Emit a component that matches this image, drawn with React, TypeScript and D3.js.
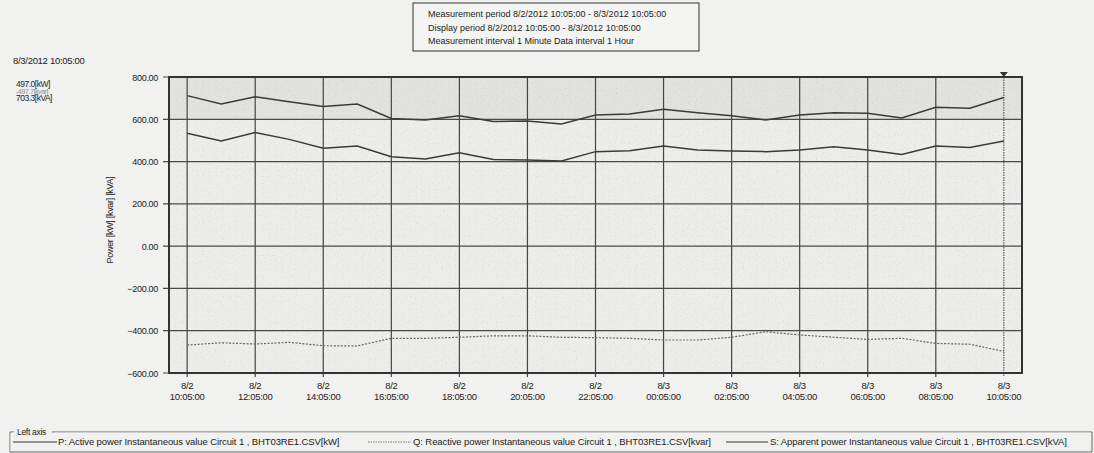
import React from 'react';
import * as d3 from 'd3';

// hourly samples, 8/2/2012 10:05 -> 8/3/2012 10:05
const times = [
  '2012-08-02 10:05', '2012-08-02 11:05', '2012-08-02 12:05', '2012-08-02 13:05', '2012-08-02 14:05',
  '2012-08-02 15:05', '2012-08-02 16:05', '2012-08-02 17:05', '2012-08-02 18:05', '2012-08-02 19:05',
  '2012-08-02 20:05', '2012-08-02 21:05', '2012-08-02 22:05', '2012-08-02 23:05', '2012-08-03 00:05',
  '2012-08-03 01:05', '2012-08-03 02:05', '2012-08-03 03:05', '2012-08-03 04:05', '2012-08-03 05:05',
  '2012-08-03 06:05', '2012-08-03 07:05', '2012-08-03 08:05', '2012-08-03 09:05', '2012-08-03 10:05',
];

// P: active power [kW]
const activeP = [534, 497, 537, 505, 463, 474, 423, 412, 442, 410, 407, 403, 447, 451, 474, 455, 450, 447, 455, 470, 455, 433, 474, 467, 497];
// Q: reactive power [kvar]
const reactiveQ = [-468, -457, -463, -455, -471, -472, -436, -436, -431, -424, -424, -431, -433, -436, -444, -444, -431, -405, -420, -431, -441, -436, -460, -464, -498];
// S: apparent power [kVA]
const apparentS = [712, 672, 707, 683, 660, 672, 604, 597, 617, 590, 592, 578, 620, 625, 647, 631, 617, 597, 620, 631, 628, 606, 657, 652, 703];

const xTicks = [
  '2012-08-02 10:05', '2012-08-02 12:05', '2012-08-02 14:05', '2012-08-02 16:05', '2012-08-02 18:05',
  '2012-08-02 20:05', '2012-08-02 22:05', '2012-08-03 00:05', '2012-08-03 02:05', '2012-08-03 04:05',
  '2012-08-03 06:05', '2012-08-03 08:05', '2012-08-03 10:05',
];
const yTicks = [800, 600, 400, 200, 0, -200, -400, -600];

const infoLines = [
  'Measurement period  8/2/2012 10:05:00 - 8/3/2012 10:05:00',
  'Display period  8/2/2012 10:05:00 - 8/3/2012 10:05:00',
  'Measurement interval  1 Minute  Data interval  1 Hour',
];
const cursorTime = '8/3/2012 10:05:00';
const cursorValues = ['497.0[kW]', '-497.7[kvar]', '703.3[kVA]'];
const legendNames = [
  'P: Active power Instantaneous value Circuit 1 , BHT03RE1.CSV[kW]',
  'Q: Reactive power Instantaneous value Circuit 1 , BHT03RE1.CSV[kvar]',
  'S: Apparent power Instantaneous value Circuit 1 , BHT03RE1.CSV[kVA]',
];

const parse = d3.timeParse('%Y-%m-%d %H:%M');
const W = 1094;
const H = 453;
const plot = { left: 169, right: 1022, top: 77, bottom: 373 };
const font = '"Liberation Sans", Arial, sans-serif';

// legend layout: sample line start/end, text start
const legendLayout = [
  { x1: 13, x2: 57, tx: 58, dash: undefined, color: '#333' },
  { x1: 368, x2: 411, tx: 413, dash: '1.5,1', color: '#777' },
  { x1: 726, x2: 768, tx: 770, dash: undefined, color: '#333' },
];

export default function App() {
  const dates = times.map((t) => parse(t) as Date);
  const x = d3
    .scaleTime()
    .domain([parse('2012-08-02 09:33') as Date, parse('2012-08-03 10:37') as Date])
    .range([plot.left, plot.right]);
  const y = d3.scaleLinear().domain([-600, 800]).range([plot.bottom, plot.top]);

  const line = d3
    .line<number>()
    .x((_, i) => x(dates[i]))
    .y((d) => y(d));

  const fmtDay = d3.timeFormat('%-m/%-d');
  const fmtTime = d3.timeFormat('%H:%M:00');
  const lastX = x(dates[dates.length - 1]);
  const pw = plot.right - plot.left;
  const ph = plot.bottom - plot.top;

  return (
    <svg
      width={W}
      height={H}
      style={{ position: 'absolute', left: 0, top: 0, background: '#f1f1f0' }}
      fontFamily={font}
    >
      <defs>
        <filter id="speckle" x="0" y="0" width="100%" height="100%">
          <feTurbulence type="fractalNoise" baseFrequency="0.85" numOctaves="1" seed="4" result="n" />
          <feColorMatrix
            in="n"
            type="matrix"
            values="0 0 0 0 0.3  0 0 0 0 0.3  0 0 0 0 0.3  -6 0 0 0 2.6"
          />
        </filter>
      </defs>

      {/* info box */}
      <rect x={413} y={3} width={286} height={48} fill="#f4f4f3" stroke="#333" strokeWidth={1} />
      {infoLines.map((t, i) => (
        <text key={t} x={428} y={17 + i * 13.5} fontSize={9} fill="#222">
          {t}
        </text>
      ))}

      {/* cursor readout */}
      <text x={13} y={64} fontSize={9.5} fill="#222" letterSpacing={-0.3}>{cursorTime}</text>
      <text x={16} y={87} fontSize={8.5} fill="#222" letterSpacing={-0.5}>{cursorValues[0]}</text>
      <text x={16} y={94} fontSize={7} fill="#888" letterSpacing={-0.4}>{cursorValues[1]}</text>
      <text x={16} y={101} fontSize={8.5} fill="#222" letterSpacing={-0.5}>{cursorValues[2]}</text>

      {/* plot background */}
      <rect x={plot.left} y={plot.top} width={pw} height={ph} fill="#ededec" />
      <rect x={plot.left} y={plot.top} width={pw} height={y(600) - plot.top} fill="#e2e2e1" />
      <rect x={plot.left} y={plot.top} width={pw} height={ph} filter="url(#speckle)" opacity={0.14} />

      {/* horizontal grid + y ticks */}
      {yTicks.map((v) => (
        <g key={v}>
          <line x1={plot.left - 6} x2={plot.right} y1={y(v)} y2={y(v)} stroke="#4a4a4a" strokeWidth={1.2} />
          <text x={158} y={y(v) + 3.5} fontSize={9} textAnchor="end" fill="#222" letterSpacing={-0.3}>
            {d3.format('.2f')(v)}
          </text>
        </g>
      ))}

      {/* vertical grid + x ticks */}
      {xTicks.map((t, i) => {
        const d = parse(t) as Date;
        const last = i === xTicks.length - 1;
        return (
          <g key={t}>
            <line
              x1={x(d)}
              x2={x(d)}
              y1={plot.top}
              y2={plot.bottom + 4}
              stroke="#444"
              strokeWidth={last ? 1 : 1.2}
              strokeDasharray={last ? '1.5,1' : undefined}
            />
            <text x={x(d)} y={389} fontSize={9.5} textAnchor="middle" fill="#222" letterSpacing={-0.3}>
              {fmtDay(d)}
            </text>
            <text x={x(d)} y={400} fontSize={9.5} textAnchor="middle" fill="#222" letterSpacing={-0.3}>
              {fmtTime(d)}
            </text>
          </g>
        );
      })}

      {/* series */}
      <path d={line(apparentS) ?? ''} fill="none" stroke="#3a3a3a" strokeWidth={1.5} />
      <path d={line(activeP) ?? ''} fill="none" stroke="#3a3a3a" strokeWidth={1.5} />
      <path d={line(reactiveQ) ?? ''} fill="none" stroke="#666" strokeWidth={1.2} strokeDasharray="2,1.5" />

      {/* plot frame */}
      <rect x={plot.left} y={plot.top} width={pw} height={ph} fill="none" stroke="#333" strokeWidth={2} />

      {/* cursor marker */}
      <path d={`M${lastX - 4},${plot.top - 5} L${lastX + 4},${plot.top - 5} L${lastX},${plot.top} Z`} fill="#333" />

      {/* y axis title */}
      <text
        transform="translate(113,220) rotate(-90)"
        fontSize={9}
        textAnchor="middle"
        fill="#222"
        letterSpacing={-0.3}
      >
        Power [kW] [kvar] [kVA]
      </text>

      {/* legend group box */}
      <path d="M14,432 L10,432 L10,452 L1092,452 L1092,432 L52,432" fill="none" stroke="#666" strokeWidth={1} />
      <path d="M15,433 L11,433 L11,451 M1091,433 L53,433" fill="none" stroke="#fff" strokeWidth={0.8} />
      <text x={17} y={435} fontSize={8.5} fill="#222" letterSpacing={-0.3}>Left axis</text>

      {legendNames.map((name, i) => {
        const l = legendLayout[i];
        return (
          <g key={name}>
            <line x1={l.x1} x2={l.x2} y1={442} y2={442} stroke={l.color} strokeWidth={1} strokeDasharray={l.dash} />
            <text x={l.tx} y={445} fontSize={9.5} fill="#222" letterSpacing={-0.1}>
              {name}
            </text>
          </g>
        );
      })}
    </svg>
  );
}
